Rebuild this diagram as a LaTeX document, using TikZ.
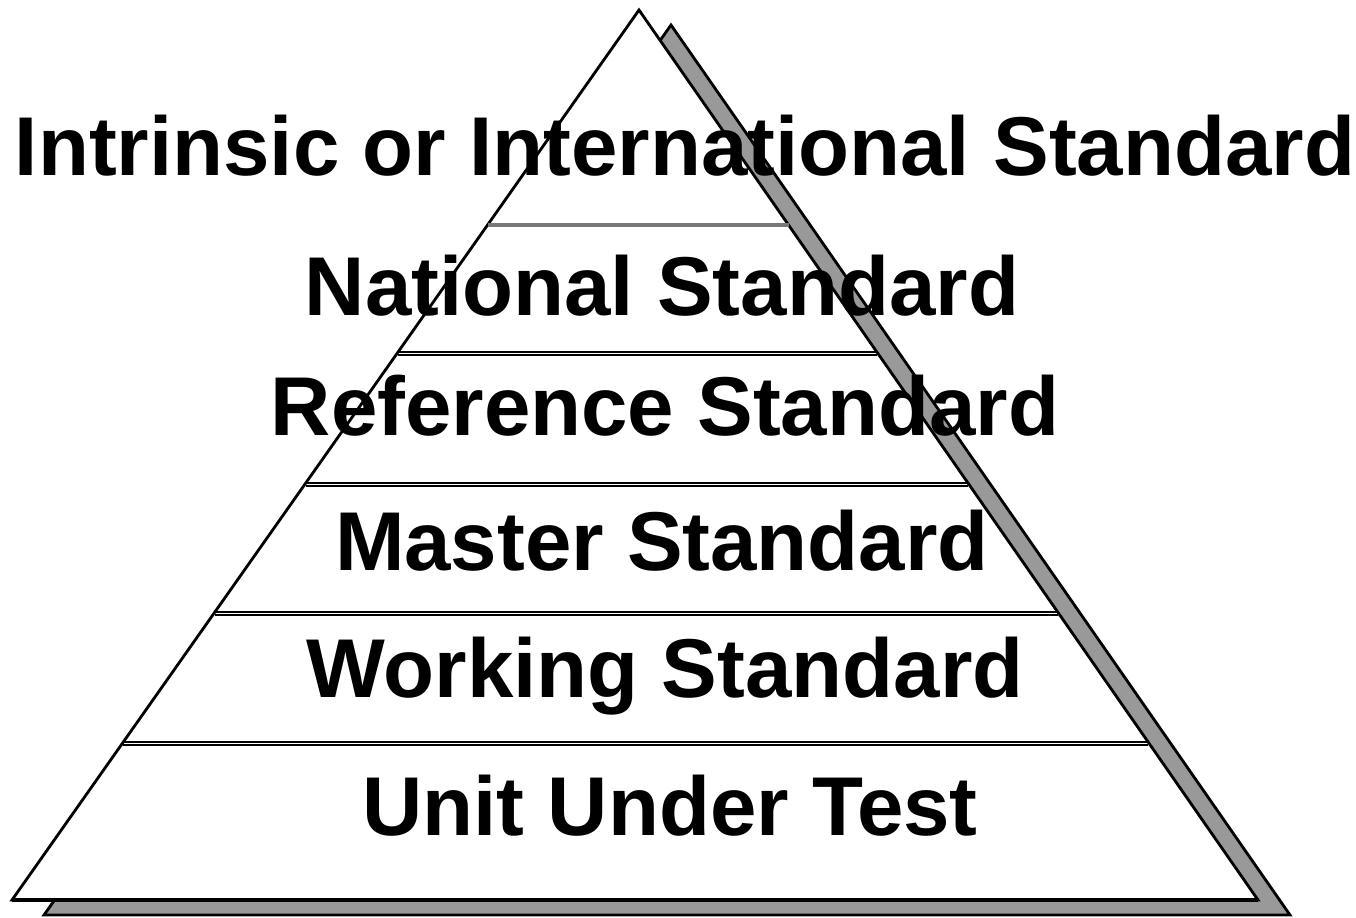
\documentclass[tikz,border=0pt]{standalone}
\usepackage{fontspec}
\setmainfont{Liberation Sans}
\usetikzlibrary{calc}
\definecolor{shade}{RGB}{153,153,153}
\definecolor{darkshade}{RGB}{119,119,119}

\begin{document}
\begin{tikzpicture}[x=0.02cm,y=-0.02cm,
    level/.style={font=\fontsize{47.5}{52}\selectfont\bfseries, anchor=base, inner sep=0pt},
    edge/.style={line width=1.6pt}]
        \def \dx {32}
        \def \dy {15}
        \useasboundingbox (0,0) rectangle (1356,917);

        \coordinate (top) at (639,10);
        \coordinate (bl) at (12,900);
        \coordinate (br) at (1258,900);

        % shadow behind the pyramid
        \draw[edge, fill=shade] ([shift={(\dx,\dy)}]top) -- ([shift={(\dx,\dy)}]br)
          -- ([shift={(\dx,\dy)}]bl) -- cycle;
        \draw[edge, fill=white] (top) -- (br) -- (bl) -- cycle;
        \draw[line width=2.2pt] (bl) -- (br);

        \coordinate (l0) at ($(top)!{215/890}!(bl)$);
        \coordinate (r0) at ($(top)!{215/890}!(br)$);
        \draw[darkshade, line width=2pt] (l0) -- (r0);
        \foreach \y [count=\i] in {352,483,612,742}{
          \coordinate (l\i) at ($(top)!{(\y-10)/890}!(bl)$);
          \coordinate (r\i) at ($(top)!{(\y-10)/890}!(br)$);
          \draw[shade, line width=1.2pt] ([shift={(0,3)}]l\i) -- ([shift={(0,3)}]r\i);
          \draw[line width=1.2pt] (l\i) -- (r\i);
        }

        \node[level] (intrinsic) at (685,175) {Intrinsic or International Standard};
        \node[level] (national) at (662,315) {National Standard};
        \node[level] (reference) at (665,435) {Reference Standard};
        \node[level] (master) at (662,570) {Master Standard};
        \node[level] (working) at (665,697) {Working Standard};
        \node[level] (uut) at (670,835) {Unit Under Test};
\end{tikzpicture}
\end{document}
